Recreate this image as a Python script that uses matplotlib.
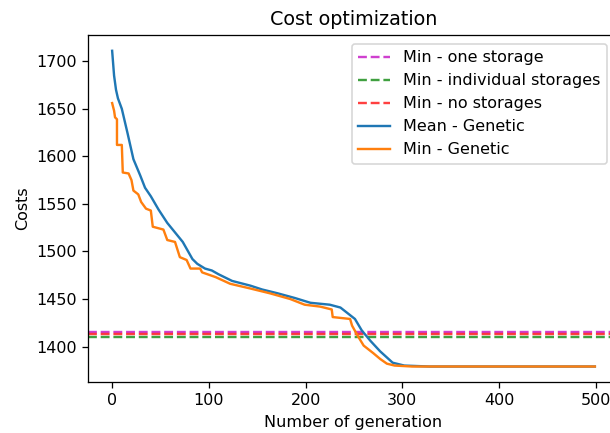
import matplotlib
matplotlib.use('Agg')
import matplotlib.pyplot as plt

# reference minima (horizontal lines)
min_one_storage = 1415
min_individual = 1410.5
min_no_storage = 1413

# mean cost per generation
mean_gen = [0, 2, 4, 6, 10, 16, 22, 29, 34, 40, 48, 57, 65, 73, 78, 83, 88, 96, 103, 110,
            124, 143, 155, 171, 189, 205, 225, 236, 241, 251, 258, 267, 277, 290,
            302, 328, 499]
mean_cost = [1711, 1685, 1670, 1661, 1650, 1624, 1597, 1580, 1567, 1558, 1544, 1530,
             1520, 1510, 1501, 1492, 1487, 1482, 1480, 1476, 1469, 1464, 1460, 1456, 1451,
             1446, 1444, 1441, 1437, 1429, 1417, 1406, 1395, 1383, 1380, 1379, 1379]

# min cost per generation
min_gen = [0, 2, 3, 5, 5, 10, 11, 17, 20, 22, 27, 30, 35, 40, 42, 53, 57, 65, 70, 77,
           81, 91, 93, 107, 122, 143, 163, 184, 199, 215, 227, 228, 246, 248, 254,
           260, 270, 277, 284, 292, 310, 499]
min_cost = [1656, 1648, 1641, 1639, 1612, 1612, 1583, 1582, 1575, 1564, 1560, 1552,
            1545, 1543, 1526, 1523, 1512, 1510, 1494, 1491, 1482, 1482, 1478, 1473,
            1466, 1461, 1456, 1450, 1444, 1442, 1439, 1431, 1429, 1422, 1411, 1401,
            1393, 1387, 1382, 1380, 1379, 1379]

dpi = 115
fig = plt.figure(figsize=(610 / dpi, 433 / dpi), dpi=dpi)
ax = fig.add_axes([88 / 610, 50.7 / 433, 531 / 610, 347.3 / 433])

ax.axhline(min_one_storage, color='m', linestyle='--', alpha=0.75, label='Min - one storage')
ax.axhline(min_individual, color='g', linestyle='--', alpha=0.75, label='Min - individual storages')
ax.axhline(min_no_storage, color='r', linestyle='--', alpha=0.75, label='Min - no storages')
ax.plot(mean_gen, mean_cost, label='Mean - Genetic')
ax.plot(min_gen, min_cost, label='Min - Genetic')

ax.set_title('Cost optimization')
ax.set_xlabel('Number of generation')
ax.set_ylabel('Costs')
ax.legend(loc='upper right', bbox_to_anchor=(0.977, 0.974), borderaxespad=0)

fig.savefig('out.png', dpi=dpi)
